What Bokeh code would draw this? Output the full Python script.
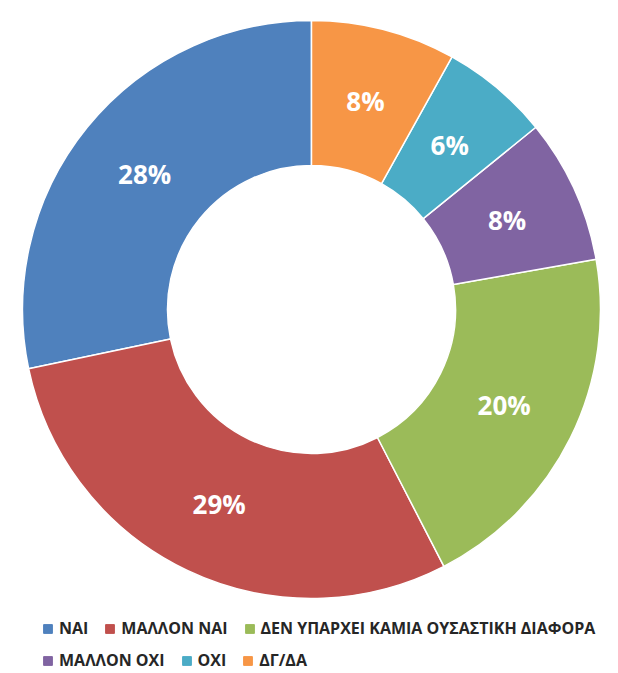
import math
from bokeh.plotting import figure
from bokeh.models import Legend, LegendItem, Range1d, ColumnDataSource
from bokeh.core.properties import value
from bokeh.embed import file_html
from bokeh.resources import INLINE

categories = ["ΝΑΙ", "ΜΑΛΛΟΝ ΝΑΙ", "ΔΕΝ ΥΠΑΡΧΕΙ ΚΑΜΙΑ ΟΥΣΑΣΤΙΚΗ ΔΙΑΦΟΡΑ",
              "ΜΑΛΛΟΝ ΟΧΙ", "ΟΧΙ", "ΔΓ/ΔΑ"]
values = [28, 29, 20, 8, 6, 8]
colors = ["#4F81BD", "#C0504D", "#9BBB59", "#8064A2", "#4BACC6", "#F79646"]

W, H = 618, 673
p = figure(width=W, height=H, output_backend="svg", toolbar_location=None,
           x_range=Range1d(0, W), y_range=Range1d(0, H),
           x_axis_type=None, y_axis_type=None, min_border=0,
           outline_line_color=None)
p.xgrid.visible = False
p.ygrid.visible = False

cx, cy = 311, H - 309
r_in, r_out, r_lab = 144, 289, 215

total = sum(values)
starts, ends, lx, ly, txt = [], [], [], [], []
a = math.pi / 2
for v in values:
    da = v / total * 2 * math.pi
    starts.append(a)
    ends.append(a + da)
    mid = a + da / 2
    lx.append(cx + r_lab * math.cos(mid))
    ly.append(cy + r_lab * math.sin(mid))
    txt.append(f"{v}%")
    a += da

src = ColumnDataSource(dict(start=starts, end=ends, color=colors))
p.annular_wedge(x=cx, y=cy, inner_radius=r_in, outer_radius=r_out,
                start_angle="start", end_angle="end", fill_color="color",
                line_color="white", line_width=1.5, source=src)

p.text(x=lx, y=ly, text=txt, text_align="center", text_baseline="middle",
       text_font=value("Open Sans"), text_font_style="bold",
       text_font_size="26px", text_color="white")

# legend proxies (drawn off-canvas, used only for legend swatches)
proxies = []
for c in colors:
    r = p.quad(left=[-50], right=[-40], top=[-40], bottom=[-50],
               fill_color=c, line_color=c)
    proxies.append(r)

def make_legend(idx, loc):
    return Legend(items=[LegendItem(label=categories[i], renderers=[proxies[i]]) for i in idx],
                  orientation="horizontal", location=loc,
                  glyph_width=11, glyph_height=11, label_standoff=6, spacing=16,
                  label_text_font="Open Sans", label_text_font_style="bold",
                  label_text_font_size="16px", label_text_color="#262626",
                  label_height=16, padding=0, margin=0,
                  border_line_alpha=0, background_fill_alpha=0)

p.add_layout(make_legend([0, 1, 2], (42, H - 631 - 8)))
p.add_layout(make_legend([3, 4, 5], (42, H - 663 - 8)))

open("out.html", "w").write(file_html(p, INLINE))
